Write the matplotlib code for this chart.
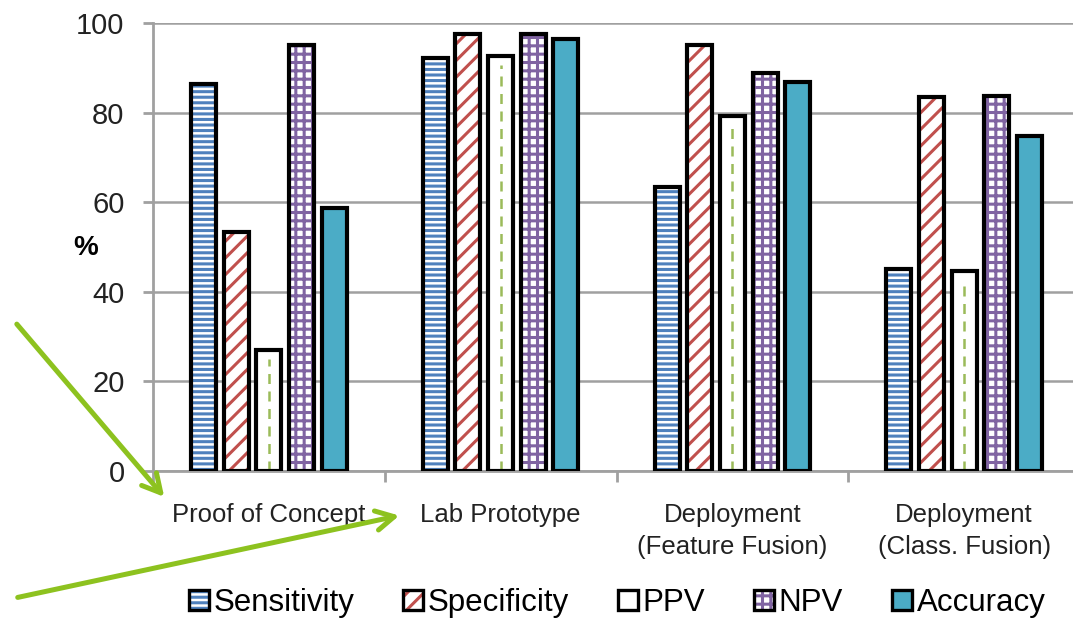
import matplotlib.pyplot as plt
import matplotlib as mpl
import numpy as np
from matplotlib.patches import Patch
from matplotlib.legend_handler import HandlerTuple

mpl.rcParams['font.family'] = ['Liberation Sans', 'DejaVu Sans']
mpl.rcParams['hatch.linewidth'] = 2.2

# data
stages = ['Proof of Concept', 'Lab Prototype', 'Deployment\n(Feature Fusion)', 'Deployment\n(Class. Fusion)']
metrics = ['Sensitivity', 'Specificity', 'PPV', 'NPV', 'Accuracy']
sensitivity = [86.4, 92.2, 63.4, 45.1]
specificity = [53.3, 97.5, 95.1, 83.5]
ppv = [27.0, 92.6, 79.2, 44.6]
npv = [95.1, 97.5, 88.8, 83.7]
accuracy = [58.7, 96.4, 86.8, 74.8]
series = [sensitivity, specificity, ppv, npv, accuracy]

# fill / hatch style per metric
styles = [
    dict(face='white', hcol='#4F81BD', hatch='---'),
    dict(face='white', hcol='#C0504D', hatch='//'),
    dict(face='white', hcol=None, hatch=None),
    dict(face='white', hcol='#8064A2', hatch='++'),
    dict(face='#4BACC6', hcol=None, hatch=None),
]
ppv_green = '#9BBB59'

fig = plt.figure(figsize=(10.73, 6.21), dpi=100)
ax = fig.add_axes([153 / 1073, 150 / 621, (1080 - 153) / 1073, 448 / 621])

x = np.arange(len(stages))
step = 0.141
width = 0.108
grid_col = '#A0A0A0'

for i, (vals, st) in enumerate(zip(series, styles)):
    pos = x + (i - 2) * step
    if st['hatch']:
        ax.bar(pos, vals, width, color=st['face'], edgecolor=st['hcol'],
               hatch=st['hatch'], linewidth=0, zorder=3)
    else:
        ax.bar(pos, vals, width, color=st['face'], linewidth=0, zorder=3)
    if metrics[i] == 'PPV':
        ax.vlines(pos, 0, np.array(vals) - 2, colors=ppv_green, linestyles=(0, (4, 3)),
                  linewidth=1.8, zorder=4)
    ax.bar(pos, vals, width, fill=False, edgecolor='black', linewidth=3.0, zorder=5)

ax.set_xlim(-0.5, 3.5)
ax.set_ylim(0, 100)
ax.set_yticks(range(0, 101, 20))
ax.yaxis.grid(True, color=grid_col, linewidth=1.8, zorder=0)
ax.set_axisbelow(True)

ax.set_xticks(x)
ax.set_xticklabels(stages, fontsize=18.5, color='#222222', linespacing=1.45)
ax.set_xticks(np.arange(-0.5, 3.6, 1.0), minor=True)
ax.tick_params(axis='x', which='major', length=0, pad=23)
ax.tick_params(axis='x', which='minor', length=8, width=2, color=grid_col, direction='out')
ax.tick_params(axis='y', length=7.5, width=2, color=grid_col, direction='out',
               labelsize=21, labelcolor='#222222', pad=13)

for s in ['top', 'right']:
    ax.spines[s].set_visible(False)
for s in ['left', 'bottom']:
    ax.spines[s].set_color(grid_col)
    ax.spines[s].set_linewidth(2)

ax.set_ylabel('%', fontsize=20, fontweight='bold', rotation=0, labelpad=0,
              ha='center', va='center')
ax.yaxis.set_label_coords(-0.073, 0.497)

# legend: hatch layer + black outline drawn on top of each other
handles = []
for i, st in enumerate(styles):
    if st['hatch']:
        fillp = Patch(facecolor=st['face'], edgecolor=st['hcol'], hatch=st['hatch'], linewidth=0)
    else:
        fillp = Patch(facecolor=st['face'], linewidth=0)
    outline = Patch(fill=False, edgecolor='black', linewidth=2.4)
    handles.append((fillp, outline))
fig.legend(handles, metrics, loc='center', bbox_to_anchor=(617 / 1073, 1 - 603 / 621),
           ncol=5, frameon=False, fontsize=22.5, handlelength=0.65, handleheight=0.65,
           handletextpad=0.15, columnspacing=1.55,
           handler_map={tuple: HandlerTuple(ndivide=1, pad=0)})

# green pointer arrows
arrow_col = '#8DC21F'
for (x0, y0), (x1, y1) in [((15, 322), (166, 499)), ((15, 598), (402, 515))]:
    fig.patches.append(mpl.patches.FancyArrowPatch(
        (x0 / 1073, 1 - y0 / 621), (x1 / 1073, 1 - y1 / 621),
        transform=fig.transFigure, arrowstyle='->,head_length=13,head_width=7',
        color=arrow_col, linewidth=3.6, mutation_scale=1))

fig.savefig('out.png', dpi=100)
